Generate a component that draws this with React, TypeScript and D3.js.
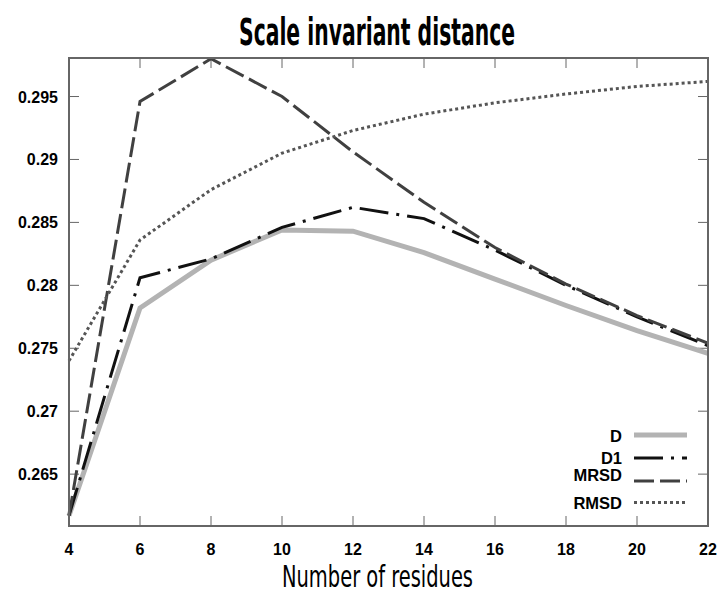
import React, { useEffect, useRef } from 'react';
import { select, scaleLinear, line } from 'd3';

const residues = [4, 6, 8, 10, 12, 14, 16, 18, 20, 22];
const dValues = [0.2617, 0.2782, 0.2820, 0.2844, 0.2843, 0.2826, 0.2805, 0.2784, 0.2764, 0.2746];
const d1Values = [0.2617, 0.2806, 0.2821, 0.2846, 0.2862, 0.2853, 0.2828, 0.2800, 0.2775, 0.2752];
const mrsdValues = [0.2617, 0.2946, 0.2980, 0.2950, 0.2906, 0.2866, 0.2830, 0.2801, 0.2776, 0.2754];
const rmsdValues = [0.2740, 0.2836, 0.2876, 0.2905, 0.2923, 0.2936, 0.2945, 0.2952, 0.2958, 0.2962];
const yTicks = [0.265, 0.27, 0.275, 0.28, 0.285, 0.29, 0.295];
const xTicks = [4, 6, 8, 10, 12, 14, 16, 18, 20, 22];

const series = [
  { name: 'D', values: dValues, color: '#b3b3b3', width: 5, dash: null },
  { name: 'D1', values: d1Values, color: '#111111', width: 3, dash: '29,8,3,8' },
  { name: 'MRSD', values: mrsdValues, color: '#404040', width: 3, dash: '20,6' },
  { name: 'RMSD', values: rmsdValues, color: '#555555', width: 3, dash: '3,3' },
];

const labelFont = '"Liberation Sans", Arial, sans-serif';
const narrowFont = '"DejaVu Sans Condensed", "Liberation Sans Narrow", sans-serif';

const drawChart = (node: SVGSVGElement) => {
  const width = 720;
  const height = 597;
  const margin = { left: 69, right: 12, top: 58, bottom: 71 };

  const svg = select(node).attr('width', width).attr('height', height);
  svg.selectAll('*').remove();

  const x = scaleLinear().domain([4, 22]).range([margin.left, width - margin.right]);
  const y = scaleLinear().domain([0.26088, 0.29806]).range([height - margin.bottom, margin.top]);

  const axisColor = '#666';
  const x0 = x.range()[0];
  const x1 = x.range()[1];
  const y0 = y.range()[0];
  const y1 = y.range()[1];

  // ticks (inside, both sides)
  const tickLen = 10;
  svg.selectAll('.ytick')
    .data(yTicks)
    .enter()
    .append('path')
    .attr('d', d => `M${x0},${y(d)}h${tickLen}M${x1},${y(d)}h${-tickLen}`)
    .attr('stroke', axisColor)
    .attr('stroke-width', 1);
  svg.selectAll('.xtick')
    .data(xTicks)
    .enter()
    .append('path')
    .attr('d', d => `M${x(d)},${y0}v${-tickLen}M${x(d)},${y1}v${tickLen}`)
    .attr('stroke', axisColor)
    .attr('stroke-width', 1);

  svg.selectAll('.ylab')
    .data(yTicks)
    .enter()
    .append('text')
    .attr('x', x0 - 11)
    .attr('y', d => y(d) + 6)
    .attr('text-anchor', 'end')
    .style('font-family', labelFont)
    .style('font-weight', 'bold')
    .style('font-size', '16px')
    .text(d => String(d));

  svg.selectAll('.xlab')
    .data(xTicks)
    .enter()
    .append('text')
    .attr('x', d => x(d))
    .attr('y', y0 + 29)
    .attr('text-anchor', 'middle')
    .style('font-family', labelFont)
    .style('font-weight', 'bold')
    .style('font-size', '16px')
    .text(d => String(d));

  const lineGen = line<number>()
    .x((d, i) => x(residues[i]))
    .y(d => y(d));

  series.forEach(s => {
    svg.append('path')
      .datum(s.values)
      .attr('d', lineGen)
      .attr('fill', 'none')
      .attr('stroke', s.color)
      .attr('stroke-width', s.width)
      .attr('stroke-dasharray', s.dash)
      .attr('stroke-linejoin', 'miter');
  });

  // frame
  svg.append('rect')
    .attr('x', x0)
    .attr('y', y1)
    .attr('width', x1 - x0)
    .attr('height', y0 - y1)
    .attr('fill', 'none')
    .attr('stroke', axisColor)
    .attr('stroke-width', 2);

  // legend
  const legY = [435, 458, 481, 502.5];
  const textY = [442, 464, 481, 509];
  const leg = svg.append('g');
  series.forEach((s, i) => {
    leg.append('text')
      .attr('x', 622)
      .attr('y', textY[i])
      .attr('text-anchor', 'end')
      .style('font-family', labelFont)
      .style('font-weight', 'bold')
      .style('font-size', '16.5px')
      .text(s.name);
    leg.append('line')
      .attr('x1', 634)
      .attr('x2', 687)
      .attr('y1', legY[i])
      .attr('y2', legY[i])
      .attr('stroke', s.color)
      .attr('stroke-width', s.width)
      .attr('stroke-dasharray', s.dash);
  });

  svg.append('text')
    .attr('x', 239)
    .attr('y', 45)
    .attr('textLength', 276)
    .attr('lengthAdjust', 'spacingAndGlyphs')
    .style('font-family', narrowFont)
    .style('font-weight', 'bold')
    .style('font-size', '37px')
    .text('Scale invariant distance');

  svg.append('text')
    .attr('x', 282)
    .attr('y', 587)
    .attr('textLength', 191)
    .attr('lengthAdjust', 'spacingAndGlyphs')
    .style('font-family', narrowFont)
    .style('font-size', '30px')
    .text('Number of residues');
};

const App = () => {
  const ref = useRef<SVGSVGElement>(null);
  useEffect(() => {
    if (ref.current) drawChart(ref.current);
  }, []);
  return (
    <svg ref={ref} style={{ position: 'absolute', left: 0, top: 0, display: 'block' }} />
  );
};

export default App;
